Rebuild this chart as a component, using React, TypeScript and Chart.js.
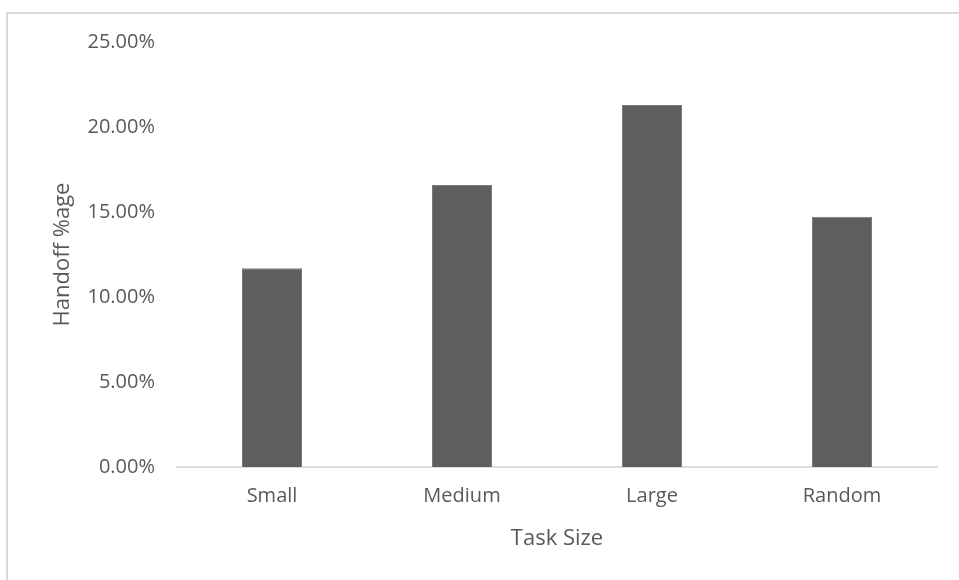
import React, { useEffect, useRef } from "react";
import { Chart, registerables } from "chart.js";

Chart.register(...registerables);

// Share of work handed off, by task size (percent)
const categories: string[] = ["Small", "Medium", "Large", "Random"];
const handoffPct: number[] = [11.69, 16.59, 21.29, 14.72];
const yTickValues: number[] = [0, 5, 10, 15, 20, 25];

const TEXT = "#595959";
const FONT = "'Open Sans', 'Noto Sans', sans-serif";

export default function App() {
  const canvasRef = useRef<HTMLCanvasElement | null>(null);

  useEffect(() => {
    const canvas = canvasRef.current;
    if (!canvas) return;
    const chart = new Chart(canvas, {
      type: "bar",
      data: {
        labels: categories,
        datasets: [
          {
            label: "Handoff %age",
            data: handoffPct,
            backgroundColor: "#5e5e5e",
            borderColor: "#7a7a7a",
            borderWidth: 1,
            barPercentage: 0.316,
            categoryPercentage: 1,
          },
        ],
      },
      options: {
        animation: false,
        responsive: false,
        maintainAspectRatio: false,
        layout: { padding: { left: 0, right: 22, top: 42, bottom: 0 } },
        plugins: {
          legend: { display: false },
          tooltip: { enabled: false },
        },
        scales: {
          x: {
            grid: { display: false, drawTicks: false },
            border: { display: true, color: "#dcdcdc", width: 2 },
            ticks: {
              color: TEXT,
              font: { family: FONT, size: 20 },
              padding: 17,
            },
            title: {
              display: true,
              text: "Task Size",
              color: TEXT,
              font: { family: FONT, size: 22 },
              padding: { top: 0, bottom: 28 },
            },
            afterFit: (scale: any) => {
              scale.height = 113;
            },
          },
          y: {
            min: 0,
            max: 25,
            afterBuildTicks: (scale: any) => {
              scale.ticks = yTickValues.map((v) => ({ value: v }));
            },
            grid: { display: false, drawTicks: false },
            border: { display: false },
            ticks: {
              color: TEXT,
              font: { family: FONT, size: 20 },
              padding: 22,
              callback: (v: any) => Number(v).toFixed(2) + "%",
            },
            title: {
              display: true,
              text: "Handoff %age",
              color: TEXT,
              font: { family: FONT, size: 22 },
              padding: { top: 50, bottom: 0 },
            },
            afterFit: (scale: any) => {
              scale.width = 177;
            },
          },
        },
      },
    });
    return () => chart.destroy();
  }, []);

  return (
    <div
      style={{
        position: "absolute",
        left: 0,
        top: 0,
        width: 959,
        height: 580,
        background: "#ffffff",
        overflow: "hidden",
      }}
    >
      <div
        style={{
          position: "absolute",
          left: 6,
          top: 12,
          width: 1000,
          height: 700,
          borderLeft: "2px solid #d9d9d9",
          borderTop: "2px solid #d9d9d9",
        }}
      />
      <canvas
        ref={canvasRef}
        width={959}
        height={580}
        style={{ position: "absolute", left: 0, top: 0, width: 959, height: 580 }}
      />
    </div>
  );
}
